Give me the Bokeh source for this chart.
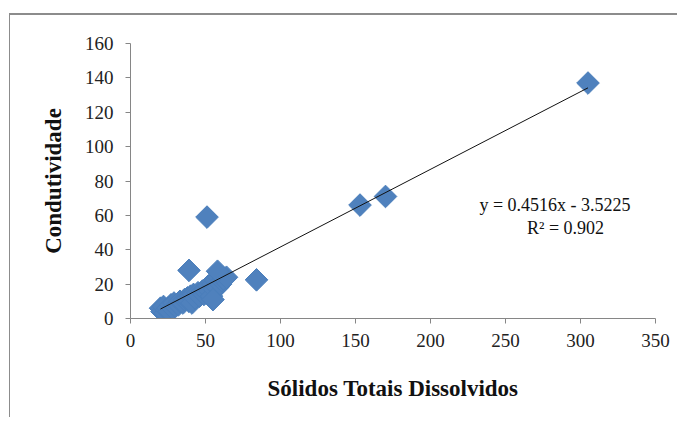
from bokeh.plotting import figure
from bokeh.models import ColumnDataSource, FixedTicker, Range1d
from bokeh.core.properties import value
from bokeh.embed import file_html
from bokeh.resources import INLINE
import math

# Data
tds = [20, 21, 22, 23, 24, 25, 26, 27, 28, 29, 30, 32, 33, 35, 36, 38, 39, 40, 41, 42,
       43, 45, 46, 48, 49, 50, 51, 52, 53, 54, 55, 56, 57, 58, 59, 60, 61, 62, 64, 55,
       39, 58, 51, 84, 153, 170, 305]
cond = [6, 4, 7, 3, 5, 6, 4, 8, 6, 9, 7, 8, 10, 9, 11, 12, 10, 13, 9, 14,
        12, 15, 13, 16, 14, 17, 15, 19, 16, 13, 20, 17, 22, 18, 24, 20, 22, 23, 24, 11,
        28, 27.5, 59, 22.5, 66, 71, 137]

slope = 0.4516
intercept = -3.5225
eq_labels = ["y = 0.4516x - 3.5225", "R\u00b2 = 0.902"]
eq_x = [283, 290]
eq_y = [66, 52.5]

x_ticks = [0, 50, 100, 150, 200, 250, 300, 350]
y_ticks = [0, 20, 40, 60, 80, 100, 120, 140, 160]

FONT = "Liberation Serif"
GRAY = "#868686"

p = figure(width=668, height=404, output_backend="svg", toolbar_location=None,
           x_range=Range1d(0, 350), y_range=Range1d(0, 160),
           min_border_left=120, min_border_right=23, min_border_top=28, min_border_bottom=101)
p.styles = {"margin-top": "13px", "margin-left": "9px",
            "border-top": "2px solid #8c8c8c", "border-left": "1px solid #8c8c8c"}
p.outline_line_color = None
p.xgrid.visible = False
p.ygrid.visible = False
p.background_fill_color = "white"
p.border_fill_color = "white"

src = ColumnDataSource(dict(x=tds, y=cond))
p.scatter("x", "y", source=src, marker="square", angle=math.pi / 4, size=16,
          fill_color="#4F81BD", line_color="#4A7EBB", line_width=1)

xmin, xmax = min(tds), max(tds)
p.line([xmin, xmax], [slope * xmin + intercept, slope * xmax + intercept],
       line_color="#111111", line_width=1)

p.text(x=eq_x, y=eq_y, text=eq_labels, text_font=value(FONT), text_font_size="18px",
       text_align="center", text_baseline="middle", text_color="#111111")

for ax in (p.xaxis, p.yaxis):
    ax.axis_line_color = GRAY
    ax.major_tick_line_color = GRAY
    ax.minor_tick_line_color = None
    ax.major_tick_out = 5
    ax.major_tick_in = 0
    ax.major_label_text_font = FONT
    ax.major_label_text_font_size = "19px"
    ax.major_label_text_color = "#222222"
    ax.axis_label_text_font = FONT
    ax.axis_label_text_font_size = "23px"
    ax.axis_label_text_font_style = "bold"
    ax.axis_label_text_color = "#111111"

p.xaxis.ticker = FixedTicker(ticks=x_ticks)
p.yaxis.ticker = FixedTicker(ticks=y_ticks)
p.xaxis.axis_label = "Sólidos Totais Dissolvidos"
p.yaxis.axis_label = "Condutividade"
p.xaxis.major_label_standoff = 10
p.yaxis.major_label_standoff = 12
p.xaxis.axis_label_standoff = 26
p.yaxis.axis_label_standoff = 16

open("out.html", "w").write(file_html(p, INLINE))
